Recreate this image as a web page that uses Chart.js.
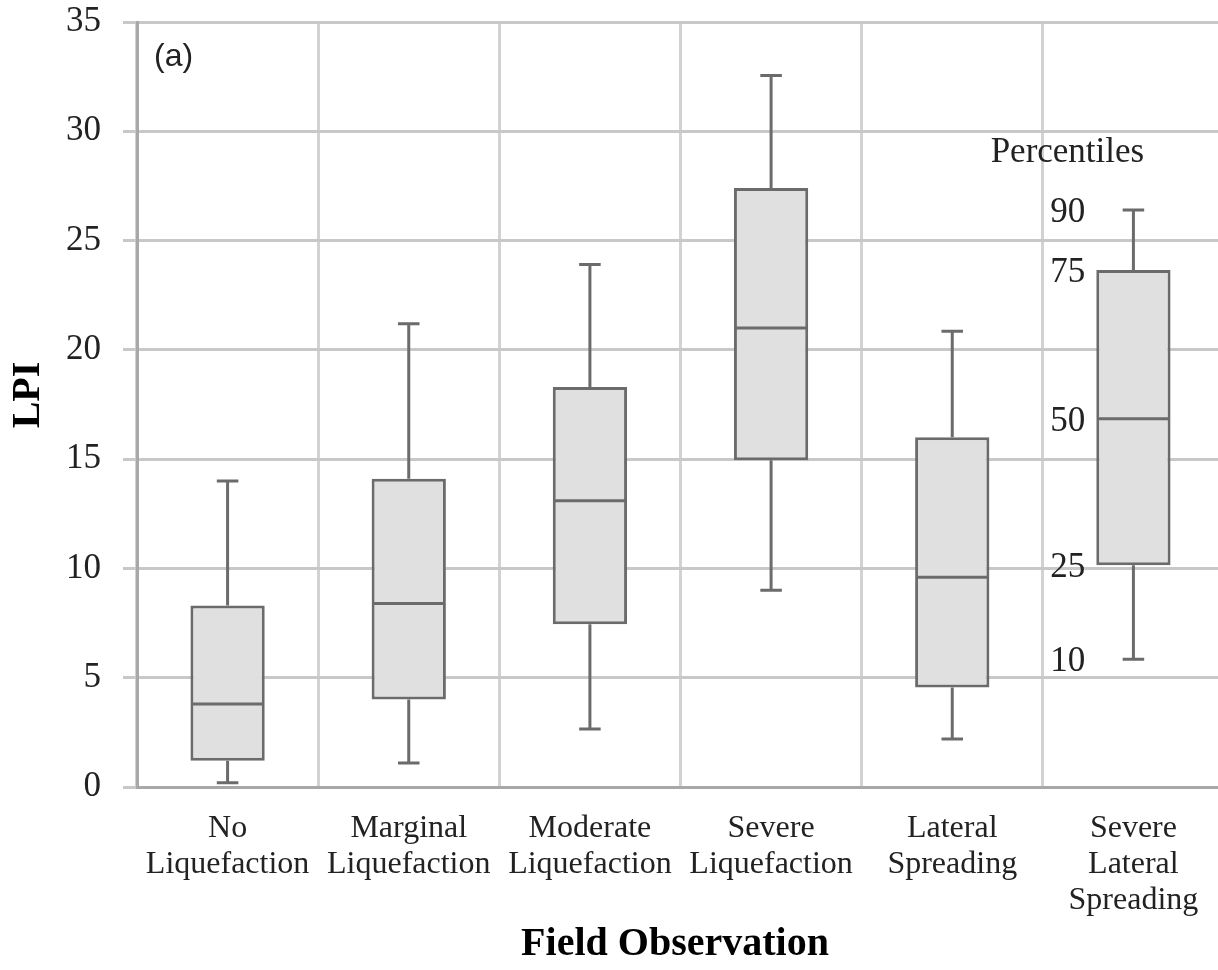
<!DOCTYPE html>
<html lang="en">

<head>
    <meta charset="UTF-8">
    <title>LPI by Field Observation</title>
    <script src="https://cdn.jsdelivr.net/npm/chart.js"></script>
    <style>
        html, body { margin: 0; padding: 0; background: #fff; overflow: hidden; }
        /* a little wider than the window so the last grid line falls off the edge */
        .chart-box { width: 1224px; height: 970px; }
    </style>
</head>

<body>
    <div class="chart-box">
        <canvas id="lpiChart"></canvas>
    </div>

    <script>
        // Field observation categories (multi-line tick labels)
        const categories = [
            ['No', 'Liquefaction'],
            ['Marginal', 'Liquefaction'],
            ['Moderate', 'Liquefaction'],
            ['Severe', 'Liquefaction'],
            ['Lateral', 'Spreading'],
            ['Severe', 'Lateral', 'Spreading']
        ];

        // LPI percentiles per category
        const p10 = [0.2, 1.1, 2.65, 9.0, 2.2, 5.85];
        const p25 = [1.2, 4.0, 7.45, 14.95, 4.55, 10.15];
        const p50 = [3.8, 8.4, 13.1, 21.0, 9.6, 16.85];
        const p75 = [8.3, 14.1, 18.3, 27.4, 16.0, 23.65];
        const p90 = [14.0, 21.2, 23.9, 32.55, 20.85, 26.4];

        // key drawn beside the last box
        const percentileNames = ['90', '75', '50', '25', '10'];

        const yMin = 0, yMax = 35, yStep = 5;

        const boxFill = '#e0e0e0';
        const boxLine = '#6b6b6b';
        const textColor = '#222';

        // median lines and whiskers on top of the floating bars
        const boxExtras = {
            id: 'boxExtras',
            afterDatasetsDraw(chart) {
                const ctx = chart.ctx;
                const y = chart.scales.y;
                const bars = chart.getDatasetMeta(0).data;
                ctx.save();
                ctx.strokeStyle = boxLine;
                ctx.lineWidth = 3;
                bars.forEach((bar, i) => {
                    const half = bar.width / 2;
                    const cap = bar.width * 0.145;
                    const yMed = y.getPixelForValue(p50[i]);
                    const yQ1 = y.getPixelForValue(p25[i]);
                    const yQ3 = y.getPixelForValue(p75[i]);
                    const yLo = y.getPixelForValue(p10[i]);
                    const yHi = y.getPixelForValue(p90[i]);
                    ctx.beginPath();
                    ctx.moveTo(bar.x - half + 2, yMed);
                    ctx.lineTo(bar.x + half - 2, yMed);
                    // upper whisker
                    ctx.moveTo(bar.x, yQ3);
                    ctx.lineTo(bar.x, yHi);
                    ctx.moveTo(bar.x - cap, yHi);
                    ctx.lineTo(bar.x + cap, yHi);
                    // lower whisker
                    ctx.moveTo(bar.x, yQ1);
                    ctx.lineTo(bar.x, yLo);
                    ctx.moveTo(bar.x - cap, yLo);
                    ctx.lineTo(bar.x + cap, yLo);
                    ctx.stroke();
                });
                ctx.restore();
            }
        };

        // axis titles, panel tag and the percentile key
        const annotations = {
            id: 'annotations',
            afterDraw(chart) {
                const ctx = chart.ctx;
                const area = chart.chartArea;
                const y = chart.scales.y;
                ctx.save();
                ctx.fillStyle = '#000';

                ctx.font = 'bold 40px "Liberation Serif"';
                ctx.textAlign = 'center';
                ctx.textBaseline = 'middle';
                ctx.fillText('Field Observation', 675, 945);

                ctx.save();
                ctx.translate(29, 395);
                ctx.rotate(-Math.PI / 2);
                ctx.fillText('LPI', 0, 0);
                ctx.restore();

                ctx.fillStyle = textColor;
                ctx.font = '32px "Liberation Sans"';
                ctx.textAlign = 'left';
                ctx.fillText('(a)', area.left + 17, 57);

                const last = chart.getDatasetMeta(0).data[5];
                const idx = 5;
                const vals = [p90[idx], p75[idx], p50[idx], p25[idx], p10[idx]];
                ctx.font = '35px "Liberation Serif"';
                ctx.textAlign = 'center';
                ctx.fillText('Percentiles', last.x - 66, 153);
                ctx.textAlign = 'right';
                percentileNames.forEach((name, k) => {
                    ctx.fillText(name, last.x - last.width / 2 - 11, y.getPixelForValue(vals[k]) + 3);
                });
                ctx.restore();
            }
        };

        const ctx = document.getElementById('lpiChart').getContext('2d');
        new Chart(ctx, {
            type: 'bar',
            data: {
                labels: categories,
                datasets: [{
                    label: 'LPI',
                    data: p25.map((lo, i) => [lo, p75[i]]),
                    backgroundColor: boxFill,
                    borderColor: boxLine,
                    borderWidth: 3,
                    borderSkipped: false,
                    categoryPercentage: 1,
                    barPercentage: 0.41
                }]
            },
            options: {
                responsive: true,
                maintainAspectRatio: false,
                animation: false,
                layout: { padding: { top: 22, right: 0, left: 0, bottom: 0 } },
                plugins: {
                    legend: { display: false },
                    tooltip: { enabled: false }
                },
                scales: {
                    x: {
                        afterFit(scale) {
                            scale.height = 183;
                            scale.paddingLeft = 0;
                            scale.paddingRight = 0;
                        },
                        grid: { color: '#d2d2d2', lineWidth: 3, offset: true, drawTicks: false },
                        border: { display: true, color: '#a8a8a8', width: 3 },
                        ticks: {
                            color: textColor,
                            padding: 24,
                            maxRotation: 0,
                            autoSkip: false,
                            font: { family: 'Liberation Serif', size: 32, lineHeight: 1.12 }
                        }
                    },
                    y: {
                        min: yMin,
                        max: yMax,
                        afterFit(scale) {
                            scale.width = 137;
                            scale.paddingTop = 0;
                            scale.paddingBottom = 0;
                        },
                        grid: { color: '#c8c8c8', lineWidth: 3, tickLength: 14 },
                        border: { display: true, color: '#a8a8a8', width: 3 },
                        ticks: {
                            stepSize: yStep,
                            color: textColor,
                            padding: 22,
                            font: { family: 'Liberation Serif', size: 35 }
                        }
                    }
                }
            },
            plugins: [boxExtras, annotations]
        });
    </script>
</body>

</html>
